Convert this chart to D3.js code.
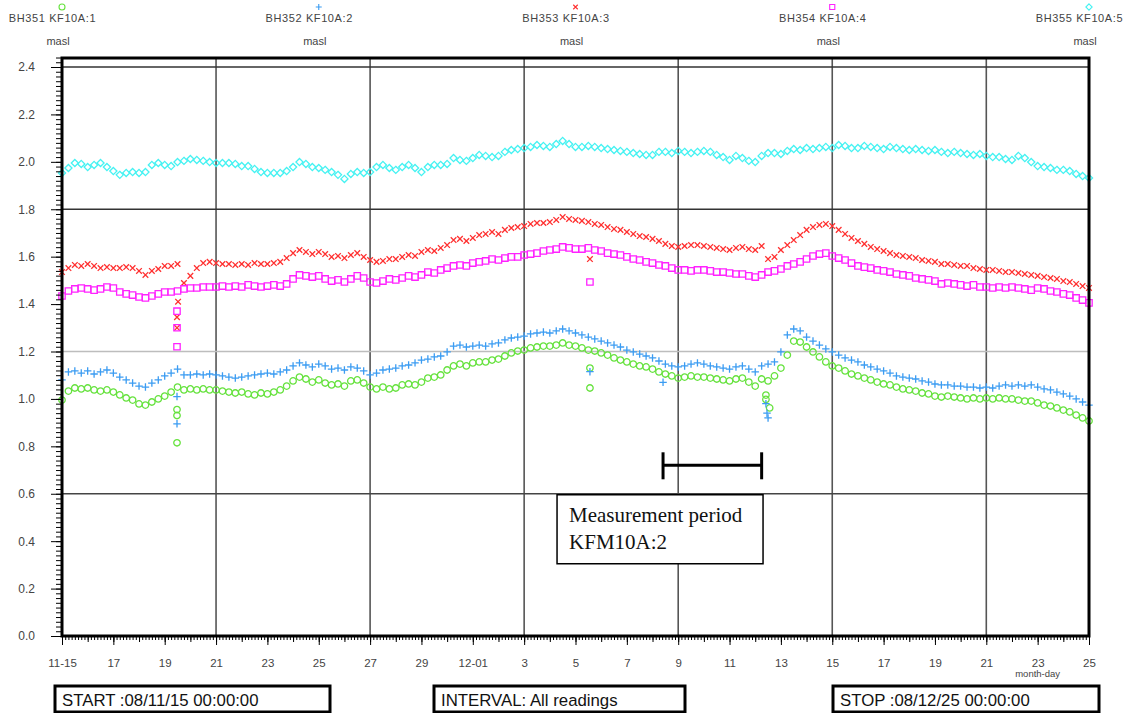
<!DOCTYPE html>
<html><head><meta charset="utf-8">
<script src="https://cdn.jsdelivr.net/npm/d3@7"></script>
<style>
html,body{margin:0;padding:0;background:#fff;}
svg{display:block;}
</style></head><body>
<svg id="chart" width="1129" height="713"></svg>
<script>
// ---------------- DATA ----------------
const seriesNames = ["BH351 KF10A:1", "BH352 KF10A:2", "BH353 KF10A:3", "BH354 KF10A:4", "BH355 KF10A:5"];
const seriesUnit = "masl";
const startTime = "2008-11-15 00:00";
const stopTime  = "2008-12-25 00:00";
const readingStepHours = 6;

const bh351 = [
0.995,1.033,1.046,1.042,1.046,1.038,1.033,1.038,1.029,1.017,
1.004,0.995,0.979,0.974,0.987,1.000,1.012,1.029,1.050,1.038,
1.042,1.038,1.042,1.038,1.038,1.033,1.029,1.025,1.029,1.021,
1.017,1.025,1.021,1.029,1.038,1.054,1.076,1.092,1.084,1.071,
1.080,1.067,1.059,1.063,1.054,1.076,1.080,1.067,1.050,1.042,
1.050,1.042,1.046,1.059,1.063,1.059,1.071,1.088,1.092,1.101,
1.122,1.139,1.147,1.139,1.152,1.156,1.156,1.164,1.168,1.181,
1.194,1.202,1.206,1.215,1.219,1.223,1.223,1.227,1.236,1.227,
1.223,1.215,1.206,1.202,1.194,1.185,1.173,1.164,1.156,1.147,
1.139,1.135,1.126,1.114,1.105,1.097,1.088,1.092,1.097,1.092,
1.092,1.088,1.084,1.080,1.076,1.084,1.088,1.071,1.054,1.084,
1.076,1.097,1.130,1.185,1.244,1.240,1.219,1.198,1.177,1.156,
1.139,1.130,1.118,1.105,1.097,1.088,1.080,1.071,1.063,1.059,
1.050,1.042,1.038,1.033,1.025,1.021,1.012,1.008,1.012,1.008,
1.004,1.000,1.004,1.000,1.004,1.000,1.004,1.000,1.000,0.995,
0.991,0.991,0.983,0.974,0.970,0.962,0.953,0.945,0.932,0.920,
0.907];
const bh352 = [
1.080,1.114,1.118,1.109,1.118,1.105,1.114,1.122,1.109,1.092,
1.080,1.067,1.054,1.050,1.067,1.080,1.097,1.109,1.126,1.101,
1.101,1.105,1.101,1.105,1.101,1.097,1.092,1.088,1.092,1.097,
1.101,1.105,1.109,1.105,1.114,1.122,1.139,1.152,1.143,1.135,
1.147,1.139,1.126,1.130,1.122,1.135,1.130,1.118,1.101,1.109,
1.122,1.126,1.130,1.139,1.143,1.152,1.164,1.168,1.177,1.181,
1.198,1.223,1.227,1.219,1.223,1.227,1.223,1.232,1.236,1.249,
1.257,1.261,1.265,1.274,1.278,1.282,1.278,1.287,1.295,1.287,
1.278,1.270,1.261,1.253,1.244,1.236,1.227,1.219,1.206,1.198,
1.189,1.181,1.173,1.160,1.147,1.139,1.135,1.139,1.147,1.152,
1.147,1.139,1.135,1.130,1.126,1.135,1.139,1.126,1.114,1.139,
1.147,1.156,1.198,1.270,1.295,1.287,1.261,1.244,1.227,1.211,
1.198,1.185,1.173,1.164,1.156,1.143,1.135,1.126,1.118,1.109,
1.097,1.092,1.088,1.084,1.076,1.071,1.063,1.059,1.059,1.054,
1.054,1.050,1.050,1.046,1.050,1.046,1.054,1.059,1.054,1.059,
1.054,1.059,1.050,1.042,1.038,1.029,1.021,1.012,1.000,0.987,
0.974];
const bh353 = [
1.535,1.552,1.565,1.561,1.569,1.561,1.552,1.556,1.552,1.552,
1.556,1.552,1.540,1.523,1.540,1.548,1.561,1.561,1.569,1.489,
1.519,1.552,1.573,1.578,1.573,1.569,1.569,1.565,1.569,1.565,
1.573,1.569,1.569,1.573,1.578,1.594,1.615,1.628,1.620,1.611,
1.620,1.611,1.599,1.603,1.594,1.607,1.615,1.599,1.586,1.578,
1.582,1.590,1.590,1.599,1.607,1.603,1.620,1.628,1.624,1.637,
1.649,1.670,1.675,1.666,1.679,1.691,1.696,1.704,1.696,1.713,
1.721,1.725,1.729,1.738,1.742,1.742,1.746,1.755,1.767,1.759,
1.755,1.751,1.746,1.738,1.734,1.725,1.717,1.713,1.704,1.696,
1.687,1.683,1.675,1.666,1.654,1.645,1.641,1.645,1.649,1.649,
1.645,1.641,1.637,1.632,1.628,1.637,1.641,1.632,1.628,1.645,
1.590,1.599,1.628,1.649,1.670,1.691,1.713,1.725,1.734,1.738,
1.729,1.713,1.696,1.679,1.666,1.654,1.641,1.632,1.624,1.615,
1.607,1.603,1.599,1.594,1.586,1.582,1.578,1.569,1.569,1.565,
1.561,1.561,1.552,1.548,1.544,1.544,1.540,1.535,1.535,1.531,
1.527,1.523,1.519,1.514,1.510,1.506,1.497,1.493,1.485,1.476,
1.468];
const bh354 = [
1.434,1.455,1.464,1.468,1.464,1.459,1.464,1.472,1.468,1.451,
1.443,1.438,1.430,1.426,1.434,1.443,1.451,1.451,1.455,1.464,
1.468,1.468,1.472,1.472,1.472,1.476,1.472,1.476,1.472,1.481,
1.476,1.472,1.476,1.481,1.476,1.485,1.506,1.523,1.519,1.514,
1.519,1.506,1.497,1.502,1.493,1.506,1.519,1.510,1.493,1.489,
1.497,1.506,1.502,1.510,1.519,1.514,1.523,1.535,1.531,1.544,
1.552,1.561,1.565,1.561,1.573,1.578,1.582,1.590,1.586,1.594,
1.599,1.599,1.607,1.611,1.615,1.624,1.628,1.632,1.641,1.637,
1.632,1.632,1.637,1.628,1.624,1.615,1.611,1.607,1.599,1.590,
1.586,1.578,1.573,1.565,1.561,1.552,1.544,1.544,1.540,1.544,
1.544,1.540,1.535,1.535,1.531,1.527,1.527,1.519,1.514,1.523,
1.535,1.540,1.548,1.561,1.569,1.578,1.590,1.603,1.611,1.615,
1.603,1.594,1.586,1.573,1.561,1.556,1.552,1.544,1.540,1.535,
1.527,1.523,1.519,1.510,1.506,1.502,1.497,1.485,1.489,1.485,
1.481,1.476,1.481,1.472,1.472,1.468,1.472,1.468,1.472,1.468,
1.464,1.459,1.468,1.464,1.455,1.451,1.443,1.438,1.426,1.417,
1.405];
const bh355 = [
1.953,1.974,1.995,1.991,1.978,1.987,1.995,1.978,1.961,1.945,
1.953,1.957,1.953,1.957,1.987,1.995,1.987,1.982,1.999,2.004,
2.012,2.008,2.004,1.999,1.995,1.995,1.995,1.991,1.982,1.982,
1.970,1.957,1.953,1.953,1.953,1.961,1.978,1.999,1.991,1.978,
1.974,1.966,1.957,1.945,1.928,1.949,1.957,1.953,1.957,1.978,
1.987,1.974,1.966,1.978,1.987,1.974,1.957,1.978,1.987,1.987,
1.991,2.016,2.008,2.004,2.016,2.029,2.025,2.020,2.025,2.042,
2.050,2.054,2.058,2.063,2.071,2.067,2.063,2.075,2.088,2.075,
2.063,2.063,2.067,2.063,2.058,2.054,2.050,2.046,2.042,2.037,
2.033,2.029,2.029,2.042,2.042,2.037,2.046,2.042,2.037,2.042,
2.046,2.042,2.029,2.020,2.008,2.025,2.016,2.004,1.999,2.025,
2.037,2.037,2.033,2.046,2.054,2.050,2.058,2.054,2.058,2.063,
2.058,2.071,2.067,2.058,2.058,2.067,2.063,2.058,2.054,2.063,
2.058,2.054,2.050,2.054,2.050,2.046,2.050,2.042,2.037,2.042,
2.037,2.033,2.029,2.033,2.025,2.020,2.020,2.012,2.008,2.025,
2.016,1.999,1.982,1.978,1.974,1.966,1.966,1.961,1.949,1.940,
1.932];

// isolated readings (disturbances)
const bh351Extra = [["2008-11-19 11:30",0.955],["2008-11-19 11:30",0.930],["2008-11-19 11:30",0.815],
  ["2008-12-05 13:30",1.130],["2008-12-05 13:30",1.046],["2008-12-12 10:00",1.016],["2008-12-12 10:00",0.998],["2008-12-12 13:30",0.962]];
const bh352Extra = [["2008-11-19 11:30",1.010],["2008-11-19 11:30",0.895],["2008-12-05 13:30",1.115],
  ["2008-12-08 09:50",1.070],["2008-12-12 10:00",0.980],["2008-12-12 11:00",0.940],["2008-12-12 12:00",0.920]];
const bh353Extra = [["2008-11-19 12:30",1.410],["2008-11-19 11:30",1.345],["2008-11-19 11:30",1.300],["2008-12-05 13:30",1.590]];
const bh354Extra = [["2008-11-19 11:30",1.370],["2008-11-19 11:30",1.300],["2008-11-19 11:30",1.220],["2008-12-05 13:30",1.493]];
const bh355Extra = [];

const yTickValues = [0.0,0.2,0.4,0.6,0.8,1.0,1.2,1.4,1.6,1.8,2.0,2.2,2.4];
const yTickLabels = ["0.0","0.2","0.4","0.6","0.8","1.0","1.2","1.4","1.6","1.8","2.0","2.2","2.4"];
const xTickDates = ["2008-11-15","2008-11-17","2008-11-19","2008-11-21","2008-11-23","2008-11-25","2008-11-27","2008-11-29",
  "2008-12-01","2008-12-03","2008-12-05","2008-12-07","2008-12-09","2008-12-11","2008-12-13","2008-12-15","2008-12-17",
  "2008-12-19","2008-12-21","2008-12-23","2008-12-25"];
const xTickLabels = ["11-15","17","19","21","23","25","27","29","12-01","3","5","7","9","11","13","15","17","19","21","23","25"];
const xGridDates = ["2008-11-21","2008-11-27","2008-12-03","2008-12-09","2008-12-15","2008-12-21"];
const yGridValues = [2.4, 1.8, 1.2, 0.6];
const yGridColors = ["#333", "#333", "#bdbdbd", "#444"];
const measurementPeriod = ["2008-12-08 09:50", "2008-12-12 06:00"];
const measurementLevel = 0.72;
const measurementText = ["Measurement period", "KFM10A:2"];
const infoTexts = ["START :08/11/15 00:00:00", "INTERVAL: All readings", "STOP :08/12/25 00:00:00"];

// ---------------- CHART ----------------
const svg = d3.select("#chart");
const L = 62, R = 1089, T = 58, B = 636;
const parseT = d3.timeParse("%Y-%m-%d %H:%M");
const parseD = d3.timeParse("%Y-%m-%d");
const t0 = parseT(startTime), t1 = parseT(stopTime);

const x = d3.scaleTime().domain([t0, t1]).range([L, R]);
const y = d3.scaleLinear().domain([0, 2.4]).range([636, 67]);

const symCircle = {draw(c, s){const r = Math.sqrt(s)/2; c.moveTo(r,0); c.arc(0,0,r,0,2*Math.PI);}};
const symPlus = {draw(c, s){const r = Math.sqrt(s)/2; c.moveTo(-r,0); c.lineTo(r,0); c.moveTo(0,-r); c.lineTo(0,r);}};
const symTimes = {draw(c, s){const r = Math.sqrt(s)/2*0.75; c.moveTo(-r,-r); c.lineTo(r,r); c.moveTo(r,-r); c.lineTo(-r,r);}};
const symSquare = {draw(c, s){const r = Math.sqrt(s)/2*0.85; c.rect(-r,-r,2*r,2*r);}};
const symDiamond = {draw(c, s){const r = Math.sqrt(s)/2*1.05; c.moveTo(0,-r); c.lineTo(r,0); c.lineTo(0,r); c.lineTo(-r,0); c.closePath();}};

const series = [
  {name: seriesNames[0], values: bh351, extra: bh351Extra, color: "#66e23e", sym: symCircle, size: 42},
  {name: seriesNames[1], values: bh352, extra: bh352Extra, color: "#3b9cf2", sym: symPlus, size: 56},
  {name: seriesNames[2], values: bh353, extra: bh353Extra, color: "#ff3030", sym: symTimes, size: 56},
  {name: seriesNames[3], values: bh354, extra: bh354Extra, color: "#ff22ff", sym: symSquare, size: 56},
  {name: seriesNames[4], values: bh355, extra: bh355Extra, color: "#45f2f2", sym: symDiamond, size: 46}
];

// grid
const grid = svg.append("g");
xGridDates.forEach(d => {
  grid.append("line").attr("x1", x(parseD(d))).attr("x2", x(parseD(d))).attr("y1", T).attr("y2", B)
    .attr("stroke", "#555").attr("stroke-width", 1.6);
});
yGridValues.forEach((v, i) => {
  grid.append("line").attr("x1", L).attr("x2", R).attr("y1", y(v)).attr("y2", y(v))
    .attr("stroke", yGridColors[i]).attr("stroke-width", 1.5);
});

// data markers
const plot = svg.append("g");
series.forEach(s => {
  const pts = s.values.map((v, i) => ({t: d3.timeHour.offset(t0, i * readingStepHours), v}))
    .concat(s.extra.map(e => ({t: parseT(e[0]), v: e[1]})));
  const gen = d3.symbol().type(s.sym).size(s.size);
  plot.append("g").selectAll("path").data(pts).join("path")
    .attr("transform", d => `translate(${x(d.t)},${y(d.v)})`)
    .attr("d", gen)
    .attr("fill", "none").attr("stroke", s.color).attr("stroke-width", 1.3);
});

// measurement period annotation
const mx0 = x(parseT(measurementPeriod[0])), mx1 = x(parseT(measurementPeriod[1])), my = y(measurementLevel);
const ann = svg.append("g").attr("stroke", "#000").attr("stroke-width", 3);
ann.append("line").attr("x1", mx0).attr("x2", mx1).attr("y1", my).attr("y2", my);
ann.append("line").attr("x1", mx0).attr("x2", mx0).attr("y1", my - 13).attr("y2", my + 14);
ann.append("line").attr("x1", mx1).attr("x2", mx1).attr("y1", my - 13).attr("y2", my + 14);
const bx = mx0 - 106, by = y(0.6) + 1;
svg.append("rect").attr("x", bx).attr("y", by).attr("width", 206).attr("height", 69)
  .attr("fill", "#fff").attr("stroke", "#000").attr("stroke-width", 1.5);
measurementText.forEach((t, i) => {
  svg.append("text").attr("x", bx + 12).attr("y", by + 27 + i * 27).text(t)
    .attr("font-family", "'Liberation Serif','Times New Roman',serif").attr("font-size", 21).attr("fill", "#111");
});

// y axis
const yMinor = d3.range(0, 123).map(i => i * 0.02);
svg.append("g").attr("transform", `translate(${L},0)`)
  .call(d3.axisLeft(y).tickValues(yMinor).tickSize(6).tickFormat(""))
  .call(g => g.select(".domain").remove());
svg.append("g").attr("transform", `translate(${L},0)`)
  .call(d3.axisLeft(y).tickValues(yTickValues).tickSize(11).tickPadding(16).tickFormat((d, i) => yTickLabels[i]))
  .call(g => g.select(".domain").remove())
  .call(g => g.selectAll("text").attr("font-family", "'Liberation Sans',Arial,sans-serif").attr("font-size", 12).attr("fill", "#444"));

// x axis
const minorX = d3.timeHour.every(3).range(t0, d3.timeHour.offset(t1, 1));
const dayX = d3.timeDay.range(t0, d3.timeHour.offset(t1, 1));
svg.append("g").attr("transform", `translate(0,${B})`)
  .call(d3.axisBottom(x).tickValues(minorX).tickSize(4).tickFormat(""))
  .call(g => g.select(".domain").remove());
svg.append("g").attr("transform", `translate(0,${B})`)
  .call(d3.axisBottom(x).tickValues(dayX).tickSize(6).tickFormat(""))
  .call(g => g.select(".domain").remove());
svg.append("g").attr("transform", `translate(0,${B})`)
  .call(d3.axisBottom(x).tickValues(xTickDates.map(parseD)).tickSize(9).tickPadding(14).tickFormat((d, i) => xTickLabels[i]))
  .call(g => g.select(".domain").remove())
  .call(g => g.selectAll("text").attr("font-family", "'Liberation Sans',Arial,sans-serif").attr("font-size", 11.5).attr("fill", "#444"));
svg.append("text").attr("x", x(parseD("2008-12-23"))).attr("y", 677).attr("text-anchor", "middle")
  .attr("font-family", "'Liberation Sans',Arial,sans-serif").attr("font-size", 9.5).attr("fill", "#444").text("month-day");

// frame
svg.append("rect").attr("x", L).attr("y", T).attr("width", R - L).attr("height", B - T)
  .attr("fill", "none").attr("stroke", "#000").attr("stroke-width", 3);

// legend
const legStep = (R - L) / 4;
series.forEach((s, i) => {
  const lx = L + i * legStep;
  svg.append("path").attr("transform", `translate(${lx},7)`).attr("d", d3.symbol().type(s.sym).size(36)())
    .attr("fill", "none").attr("stroke", s.color).attr("stroke-width", 1.1);
  svg.append("text").attr("x", lx - 9.5).attr("y", 22).attr("text-anchor", "middle").text(s.name)
    .attr("font-family", "'Liberation Sans',Arial,sans-serif").attr("font-size", 11).attr("letter-spacing", 0.6).attr("fill", "#444");
  svg.append("text").attr("x", lx - 4).attr("y", 45).attr("text-anchor", "middle").text(seriesUnit)
    .attr("font-family", "'Liberation Sans',Arial,sans-serif").attr("font-size", 11).attr("fill", "#444");
});

// info boxes
const boxes = [{x: 55, w: 275}, {x: 434, w: 251}, {x: 833, w: 266}];
boxes.forEach((b, i) => {
  svg.append("rect").attr("x", b.x).attr("y", 686).attr("width", b.w).attr("height", 26)
    .attr("fill", "#fff").attr("stroke", "#000").attr("stroke-width", 3);
  svg.append("text").attr("x", b.x + 7).attr("y", 706).text(infoTexts[i])
    .attr("font-family", "'Liberation Sans',Arial,sans-serif").attr("font-size", 16.8).attr("fill", "#111");
});
</script>
</body></html>
